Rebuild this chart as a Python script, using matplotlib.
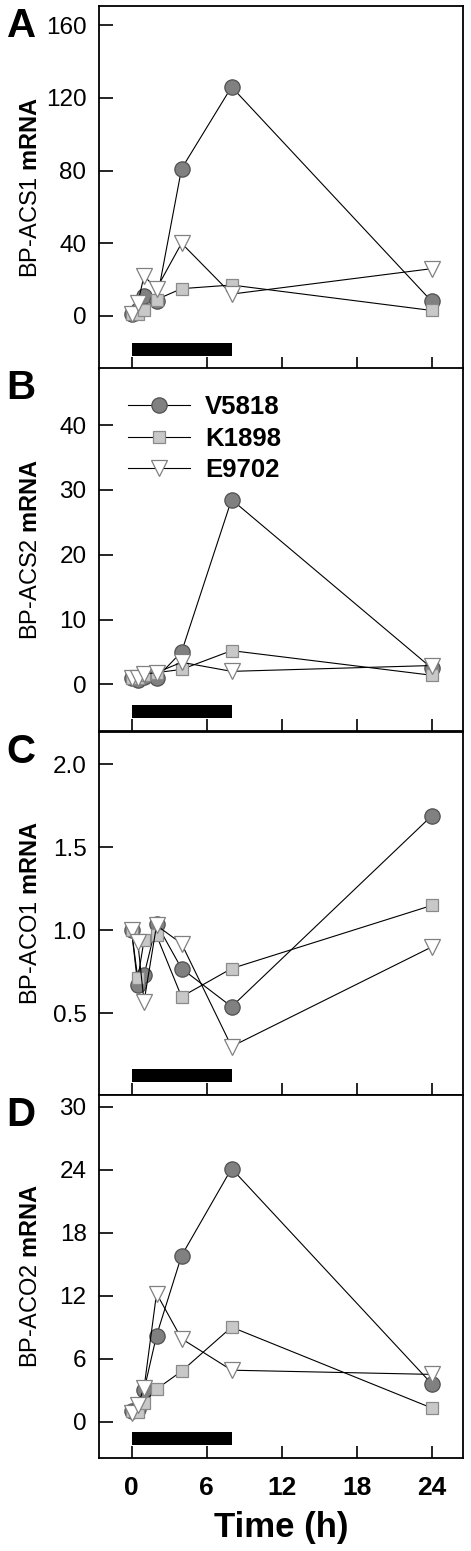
import matplotlib
matplotlib.use("Agg")
import matplotlib.pyplot as plt

plt.rcParams['font.family'] = ['Liberation Sans', 'DejaVu Sans']
plt.rcParams['mathtext.fontset'] = 'custom'
plt.rcParams['mathtext.rm'] = 'Liberation Sans'
plt.rcParams['mathtext.bf'] = 'Liberation Sans:bold'

# time points (h)
hours = [0, 0.5, 1, 2, 4, 8, 24]
lines_names = ["V5818", "K1898", "E9702"]

# A: BP-ACS1
acs1_v5818 = [1, 3, 11, 8, 81, 126, 8]
acs1_k1898 = [1, 1, 3, 9, 15, 17, 3]
acs1_e9702 = [1, 7, 22, 15, 40, 12, 26]

# B: BP-ACS2
acs2_v5818 = [1.0, 0.7, 1.2, 1.0, 5.0, 28.5, 2.5]
acs2_k1898 = [1.0, 1.0, 1.4, 1.8, 2.3, 5.2, 1.4]
acs2_e9702 = [0.9, 0.9, 1.6, 1.8, 3.4, 2.0, 2.9]

# C: BP-ACO1
aco1_v5818 = [1.0, 0.67, 0.73, 1.04, 0.77, 0.54, 1.69]
aco1_k1898 = [1.0, 0.71, 0.94, 0.97, 0.60, 0.77, 1.15]
aco1_e9702 = [1.0, 0.93, 0.57, 1.03, 0.92, 0.30, 0.90]

# D: BP-ACO2
aco2_v5818 = [1.0, 1.2, 3.0, 8.2, 15.8, 24.1, 3.6]
aco2_k1898 = [1.0, 0.9, 1.75, 3.1, 4.8, 9.0, 1.3]
aco2_e9702 = [0.8, 1.6, 3.2, 12.2, 7.9, 4.9, 4.5]

panels = [
    ("A", "BP-ACS1", [acs1_v5818, acs1_k1898, acs1_e9702], (-29.2, 170.5), [0, 40, 80, 120, 160], "{:.0f}"),
    ("B", "BP-ACS2", [acs2_v5818, acs2_k1898, acs2_e9702], (-7.2, 48.8), [0, 10, 20, 30, 40], "{:.0f}"),
    ("C", "BP-ACO1", [aco1_v5818, aco1_k1898, aco1_e9702], (0.008, 2.195), [0.5, 1.0, 1.5, 2.0], "{:.1f}"),
    ("D", "BP-ACO2", [aco2_v5818, aco2_k1898, aco2_e9702], (-3.46, 31.1), [0, 6, 12, 18, 24, 30], "{:.0f}"),
]

styles = [
    dict(marker='o', markersize=11, markerfacecolor='#808080', markeredgecolor='#505050'),
    dict(marker='s', markersize=9, markerfacecolor='#c8c8c8', markeredgecolor='#8a8a8a'),
    dict(marker='v', markersize=11.5, markerfacecolor='white', markeredgecolor='#808080'),
]

bar_start, bar_end = 0, 8

fig = plt.figure(figsize=(4.71, 15.51), dpi=100)
left, width = 99 / 471, 364 / 471
tops = [6, 368, 732, 1095]
height_px = 363

for i, (letter, gene, series, ylim, yticks, fmt) in enumerate(panels):
    bottom = (1551 - tops[i] - height_px) / 1551
    ax = fig.add_axes([left, bottom, width, height_px / 1551])
    for vals, name, st in zip(series, lines_names, styles):
        ax.plot(hours, vals, color='black', linewidth=0.8, markeredgewidth=0.9,
                label=name, **st)
    ax.axvspan(bar_start, bar_end, ymin=0.037, ymax=0.072, color='black', linewidth=0)
    ax.set_xlim(-2.6, 26.5)
    ax.set_ylim(*ylim)
    ax.set_xticks([0, 6, 12, 18, 24])
    ax.set_yticks(yticks)
    ax.set_yticklabels([fmt.format(t) for t in yticks])
    ax.tick_params(direction='in', width=1.2, labelsize=17.5)
    ax.tick_params(axis='y', length=10, pad=9)
    ax.tick_params(axis='x', length=9, pad=13)
    for sp in ax.spines.values():
        sp.set_linewidth(1.3)
    ax.set_ylabel(gene + r" $\mathbf{mRNA}$", fontsize=17)
    ax.yaxis.set_label_coords(-0.157, 0.5)
    ax.text(-0.214, 1 - 20 / height_px, letter, transform=ax.transAxes,
            fontsize=29, fontweight='bold', ha='center', va='center')
    if letter == "D":
        ax.set_xticklabels(["0", "6", "12", "18", "24"], fontsize=19, fontweight='bold')
        ax.set_xlabel("Time (h)", fontsize=25, fontweight='bold', labelpad=8)
    else:
        ax.set_xticklabels([])
    if letter == "B":
        ax.legend(loc='upper left', bbox_to_anchor=(0.08, 0.926), frameon=False,
                  prop={'weight': 'bold', 'size': 18.5},
                  handlelength=2.4, handletextpad=0.6, labelspacing=0.3,
                  borderpad=0, borderaxespad=0)

fig.savefig("out.png", dpi=100)
